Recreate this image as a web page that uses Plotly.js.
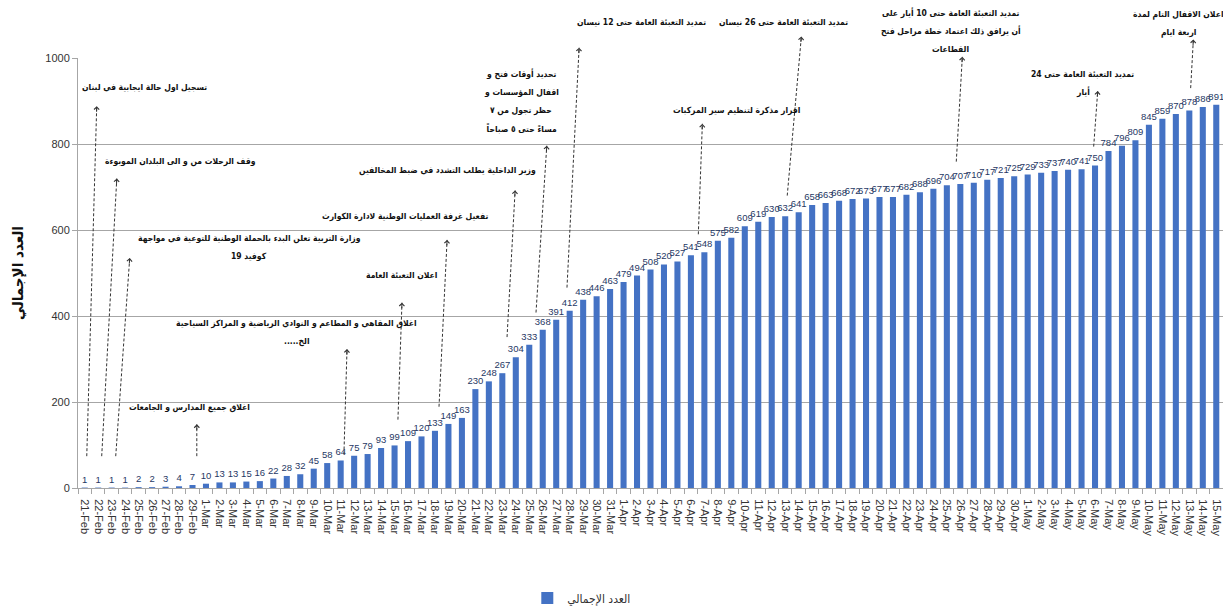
<!DOCTYPE html>
<html><head><meta charset="utf-8">
<script src="https://cdn.plot.ly/plotly-3.0.1.min.js"></script>
<style>html,body{margin:0;padding:0;background:#fff}#chart{width:1223px;height:613px}</style>
</head><body><div id="chart"></div>
<script>
// ---- data ----
const dates = ['21-Feb','22-Feb','23-Feb','24-Feb','25-Feb','26-Feb','27-Feb','28-Feb','29-Feb',
 '1-Mar','2-Mar','3-Mar','4-Mar','5-Mar','6-Mar','7-Mar','8-Mar','9-Mar','10-Mar','11-Mar','12-Mar','13-Mar','14-Mar','15-Mar','16-Mar','17-Mar','18-Mar','19-Mar','20-Mar','21-Mar','22-Mar','23-Mar','24-Mar','25-Mar','26-Mar','27-Mar','28-Mar','29-Mar','30-Mar','31-Mar',
 '1-Apr','2-Apr','3-Apr','4-Apr','5-Apr','6-Apr','7-Apr','8-Apr','9-Apr','10-Apr','11-Apr','12-Apr','13-Apr','14-Apr','15-Apr','16-Apr','17-Apr','18-Apr','19-Apr','20-Apr','21-Apr','22-Apr','23-Apr','24-Apr','25-Apr','26-Apr','27-Apr','28-Apr','29-Apr','30-Apr',
 '1-May','2-May','3-May','4-May','5-May','6-May','7-May','8-May','9-May','10-May','11-May','12-May','13-May','14-May','15-May'];
const totals = [1,1,1,1,2,2,3,4,7,
 10,13,13,15,16,22,28,32,45,58,64,75,79,93,99,109,120,133,149,163,230,248,267,304,333,368,391,412,438,446,463,
 479,494,508,520,527,541,548,575,582,609,619,630,632,641,658,663,668,672,673,677,677,682,688,696,704,707,710,717,721,725,
 729,733,737,740,741,750,784,796,809,845,859,870,878,886,891];
const seriesName = 'العدد الإجمالي';
const yAxisTitle = 'العدد الإجمالي';
const yTickValues = [0,200,400,600,800,1000];

const eventDates = ['21-Feb','22-Feb','23-Feb','29-Feb','11-Mar','15-Mar','18-Mar','23-Mar','26-Mar','28-Mar','6-Apr','13-Apr','26-Apr','6-May','13-May'];
const eventTexts = [
 'تسجيل اول حالة ايجابية في لبنان',
 'وقف الرحلات من و الى البلدان الموبوءة',
 'وزارة التربية تعلن البدء بالحملة الوطنية للتوعية في مواجهة<br>كوفيد 19',
 'اغلاق جميع المدارس و الجامعات',
 'اغلاق المقاهي و المطاعم و النوادي الرياضية و المراكز السياحية<br>.....الخ',
 'اعلان التعبئة العامة',
 'تفعيل غرفة العمليات الوطنية لادارة الكوارث',
 'وزير الداخلية يطلب التشدد في ضبط المخالفين',
 'تحديد أوقات فتح و<br>اقفال المؤسسات و<br>حظر تجول من ٧<br>مساءً حتى ٥ صباحاً',
 'تمديد التعبئة العامة حتى 12 نيسان',
 'اقرار مذكرة لتنظيم سير المركبات',
 'تمديد التعبئة العامة حتى 26 نيسان',
 'تمديد التعبئة العامة حتى 10 أيار على<br>أن يرافق ذلك اعتماد خطة مراحل فتح<br>القطاعات',
 'تمديد التعبئة العامة حتى 24<br>أيار',
 'اعلان الاقفال التام لمدة<br>اربعة ايام'
];

// ---- annotation placement (layout only): [tailDx, tailY, headDx, headY, textDx, textY] ----
const eventGeom = [
 [0.15, 74, 0.89, 888, 4.4, 932],
 [0.26, 74, 1.38, 720, 6.13, 759],
 [0.30, 74, 1.34, 535, 10.2, 560],
 [0.32, 74, 0.32, 148, -0.2, 187],
 [0.24, 78, 0.47, 323, -3.25, 362],
 [0.25, 159, 0.55, 431, 0.55, 496],
 [0.30, 189, 0.90, 577, -2.23, 632],
 [0.35, 351, 0.95, 692, -4.1, 738],
 [-0.5, 408, 0.30, 796, -1.6, 900],
 [-0.2, 466, 0.70, 1024, 5.3, 1084],
 [0.55, 590, 0.85, 847, 3.4, 877],
 [0.15, 680, 1.20, 1050, -0.1, 1084],
 [-0.3, 759, 0.15, 1003, -0.7, 1063],
 [-0.1, 794, 0.20, 923, -0.93, 943],
 [0.10, 930, 0.30, 1043, -0.8, 1080]
];

const M = {l:78, r:0, t:58, b:121};
const W = 1223, H = 613;
const plotW = W - M.l - M.r, plotH = H - M.t - M.b;
const yMax = 1000;
const pitch = plotW / dates.length, yScale = plotH / yMax;
const lineGap = 18;
const arabicFont = 'DejaVu Sans Condensed, DejaVu Sans, sans-serif';
const narrowFont = 'Liberation Sans Narrow, Arial Narrow, Liberation Sans, Arial, sans-serif';

const shapes = [], annotations = [];
eventDates.forEach((d, k) => {
  const i = dates.indexOf(d);
  const g = eventGeom[k];
  const tx = i + g[0], ty = g[1], hx = i + g[2], hy = g[3];
  shapes.push({type:'line', xref:'x', yref:'paper', x0:tx, y0:ty/yMax, x1:hx, y1:hy/yMax,
    line:{color:'#333', width:1, dash:'3px,2px'}});
  const dxp = (hx - tx) * pitch, dyp = (hy - ty) * yScale;
  const len = Math.hypot(dxp, dyp);
  annotations.push({xref:'x', yref:'paper', x:hx, y:hy/yMax, text:'', showarrow:true, arrowhead:4,
    arrowsize:1, arrowwidth:1, arrowcolor:'#333', ax:-dxp/len*7, ay:dyp/len*7});
  const lines = eventTexts[k].split('<br>');
  lines.forEach((ln, j) => {
    annotations.push({xref:'x', yref:'paper', x:i + g[4], y:g[5]/yMax, text:'<b>' + ln + '</b>',
      yshift: -(j - (lines.length - 1) / 2) * lineGap,
      showarrow:false, align:'center', xanchor:'center', yanchor:'middle',
      font:{family:arabicFont, size:8.5, color:'#111'}});
  });
});

const trace = {
  type:'bar', x:dates, y:totals, name:seriesName, showlegend:true,
  marker:{color:'#4472c4', line:{width:0}},
  text: totals.map(String), textposition:'outside', textangle:0, constraintext:'none', cliponaxis:false,
  textfont:{family:narrowFont, size:9.5, color:'#1f3864'},
  hoverinfo:'x+y'
};

const layout = {
  width:W, height:H, margin:M, paper_bgcolor:'#fff', plot_bgcolor:'#fff',
  bargap:0.55,
  font:{family:narrowFont, color:'#333'},
  xaxis:{type:'category', range:[-0.5, dates.length - 0.5], tickangle:90,
    tickfont:{family:'Liberation Sans, Arial, sans-serif', size:11, color:'#333'}, ticklabelstandoff:8,
    ticks:'outside', tickson:'boundaries', ticklen:5, tickcolor:'#a6a6a6',
    showline:true, linecolor:'#a6a6a6', linewidth:1, showgrid:false, automargin:false},
  yaxis:{range:[0,yMax], tickvals:yTickValues, showgrid:true, gridcolor:'#a6a6a6', gridwidth:1,
    showline:true, linecolor:'#a6a6a6', ticks:'outside', ticklen:5, tickcolor:'#a6a6a6', zeroline:false,
    tickfont:{family:narrowFont, size:11, color:'#333'}, automargin:false,
    title:{text:'<b>' + yAxisTitle + '</b>', standoff:18, font:{family:arabicFont, size:15, color:'#111'}}},
  legend:{orientation:'h', x:0.44, xanchor:'center', y:-0.256, yanchor:'middle',
    font:{family:arabicFont, size:12, color:'#333'}},
  shapes:shapes, annotations:annotations
};

Plotly.newPlot('chart', [trace], layout, {displayModeBar:false, staticPlot:true});
</script></body></html>
